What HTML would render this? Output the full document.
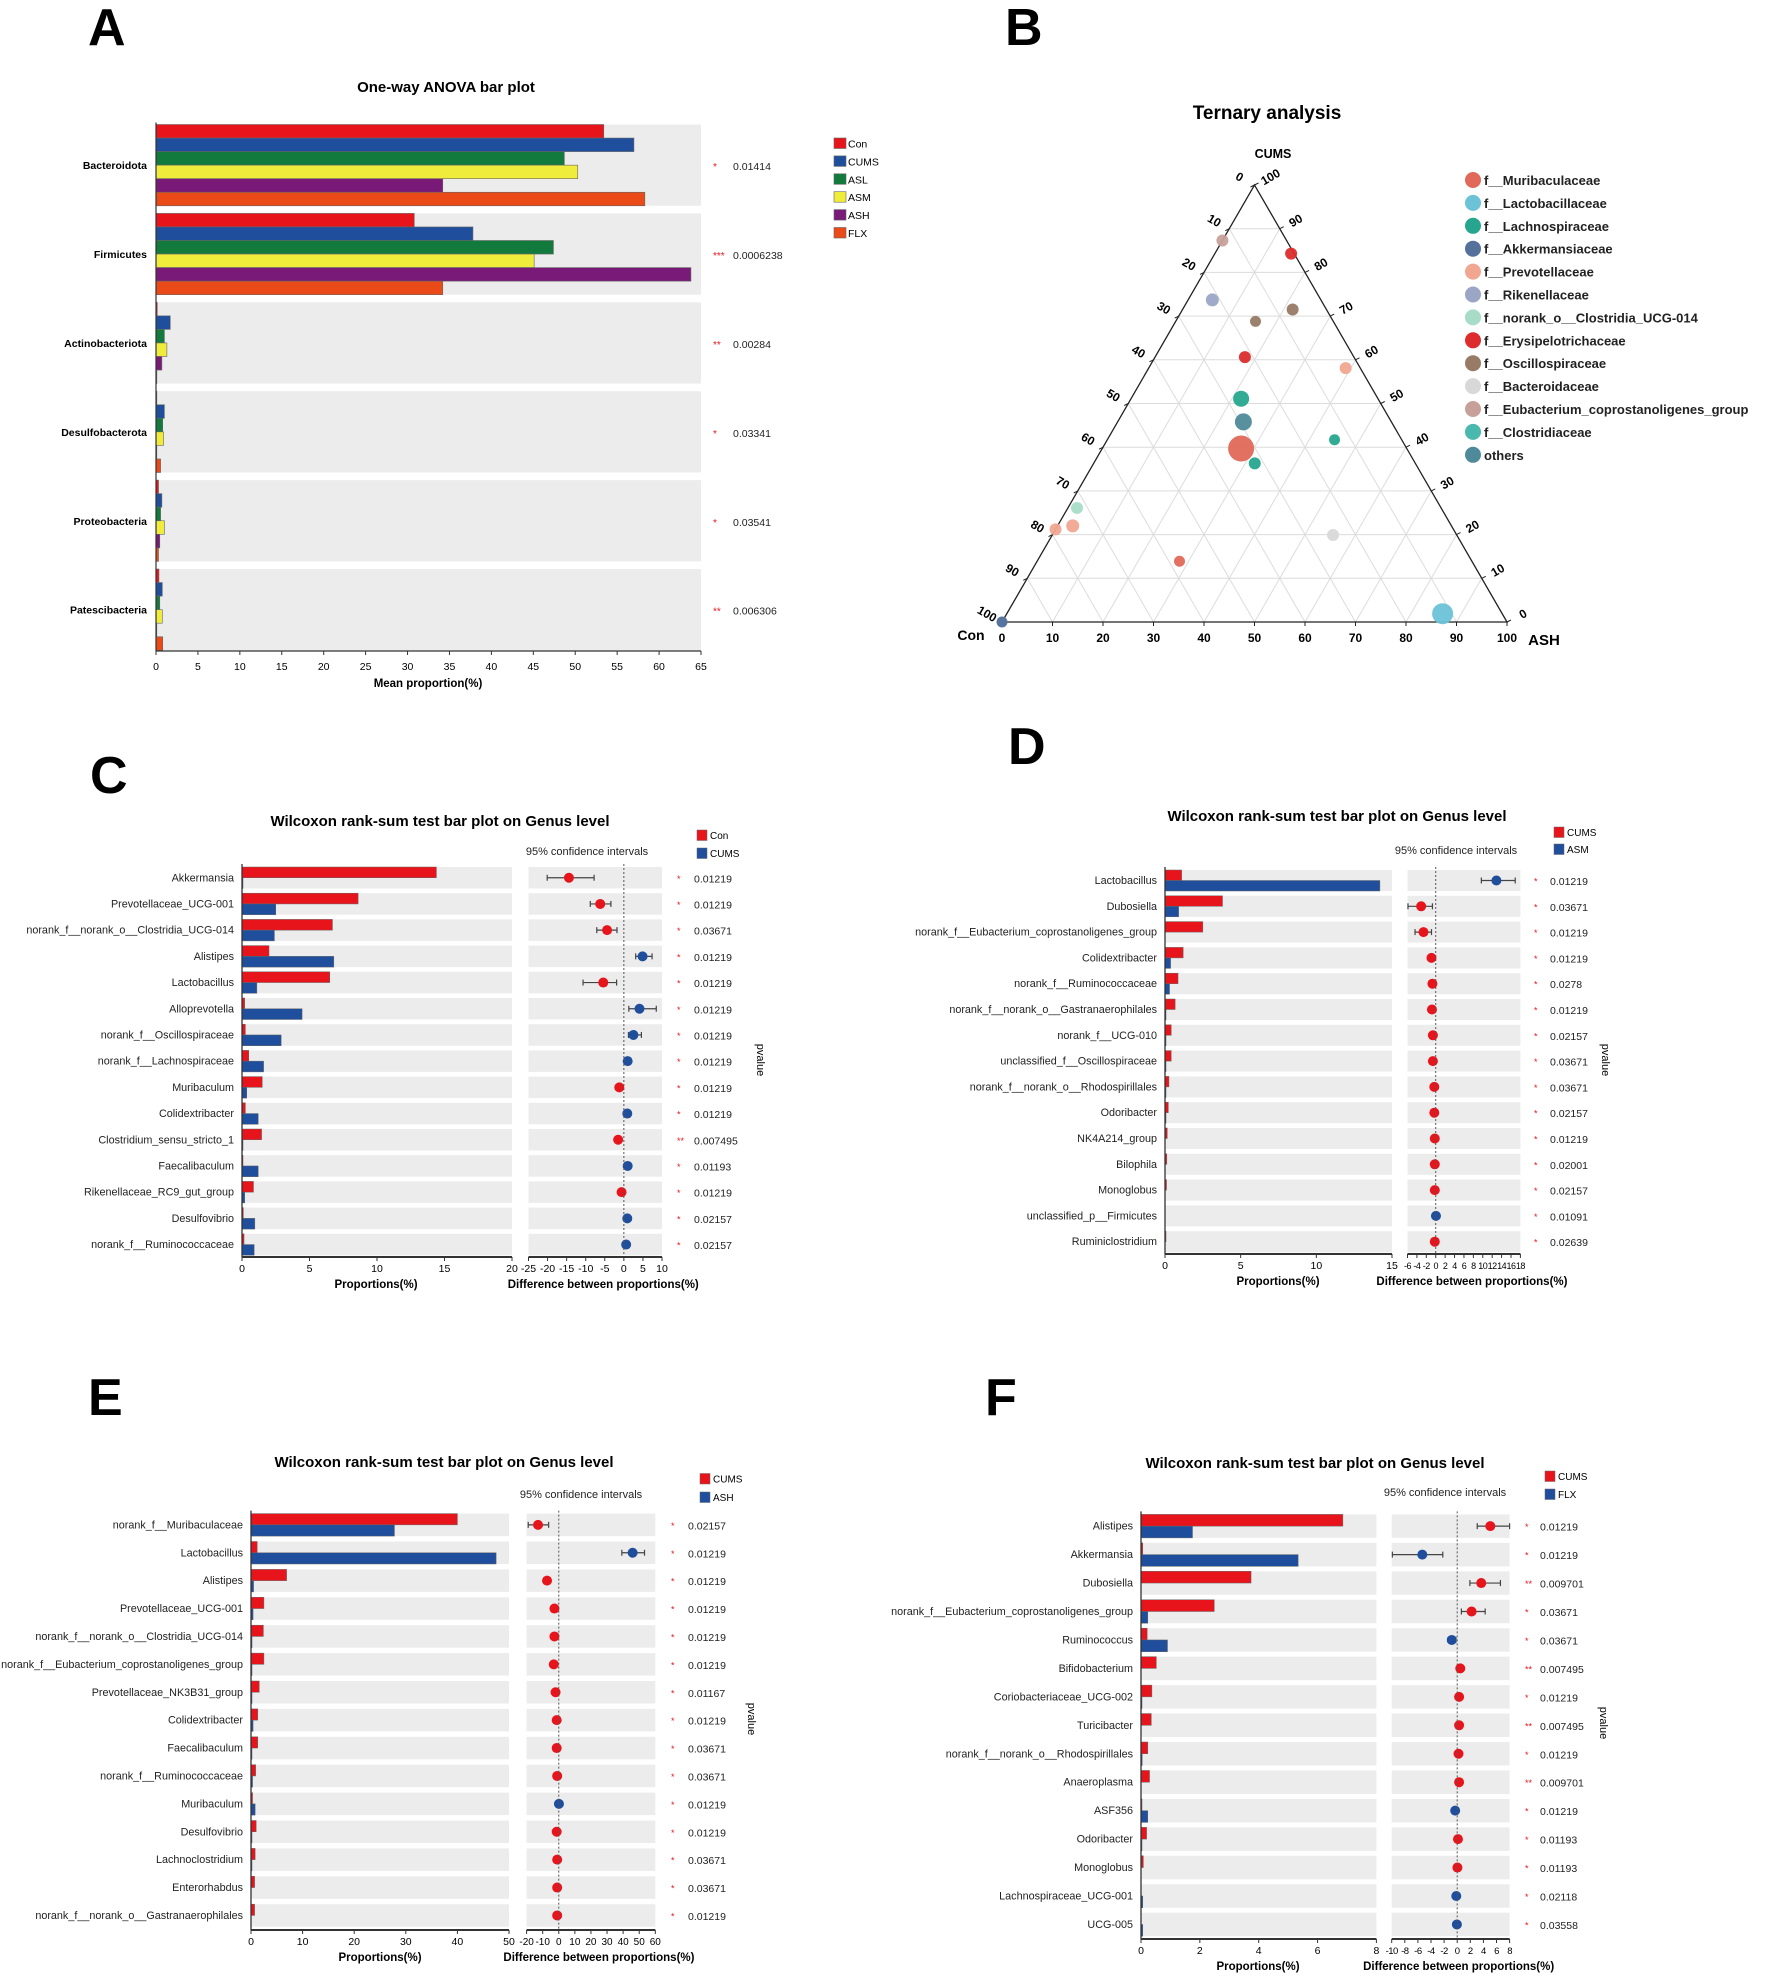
<!DOCTYPE html>
<html><head><meta charset="utf-8"><style>
html,body{margin:0;padding:0;background:#fff;}
svg{display:block;font-family:"Liberation Sans",Arial,sans-serif;}
</style></head><body>
<svg id="fig" width="1772" height="1977" viewBox="0 0 1772 1977" xmlns="http://www.w3.org/2000/svg">
<rect width="1772" height="1977" fill="#fff"/>
<g id="layer"></g>
</svg>
<script>
// ===== Panel A data =====
const aPhyla = ["Bacteroidota","Firmicutes","Actinobacteriota","Desulfobacterota","Proteobacteria","Patescibacteria"];
const aGroups = ["Con","CUMS","ASL","ASM","ASH","FLX"];
const aCon  = [53.4,30.8,0.15,0.1,0.3,0.35];
const aCUMS = [57.0,37.8,1.7,1.0,0.7,0.75];
const aASL  = [48.7,47.4,1.0,0.8,0.55,0.45];
const aASM  = [50.3,45.1,1.3,0.9,1.0,0.75];
const aASH  = [34.2,63.8,0.7,0.05,0.45,0.05];
const aFLX  = [58.3,34.2,0.1,0.55,0.3,0.8];
const aP = ["0.01414","0.0006238","0.00284","0.03341","0.03541","0.006306"];
const aStars = ["*","***","**","*","*","**"];
const aTicks = [0,5,10,15,20,25,30,35,40,45,50,55,60,65];

// ===== Panel B data =====
const bFamilies = ["f__Muribaculaceae","f__Lactobacillaceae","f__Lachnospiraceae","f__Akkermansiaceae","f__Prevotellaceae","f__Rikenellaceae","f__norank_o__Clostridia_UCG-014","f__Erysipelotrichaceae","f__Oscillospiraceae","f__Bacteroidaceae","f__Eubacterium_coprostanoligenes_group","f__Clostridiaceae","others"];
const bFam  = [11,3,10,7,5,8,8,7,4,2,12,0,2,2,6,4,4,9,0,1];
const bCums = [0,0,87.3,84.3,73.7,71.5,68.8,60.6,58.1,51.1,45.8,39.7,41.7,36.3,26.1,22.0,21.2,19.9,13.9,1.9];
const bAsh  = [0,0,0,15.1,4.8,21.8,15.8,17.8,39.0,21.8,24.9,27.5,45.0,31.9,1.8,3.0,0,55.6,28.2,86.3];
const bSize = [5,5.5,6,6,6.5,6,5.5,6,6,8,8.5,13,5.5,6,6,6.5,6,6,5.5,10.5];
const bTicks = [0,10,20,30,40,50,60,70,80,90,100];

// ===== Panel C data =====
const cLabels = ["Akkermansia","Prevotellaceae_UCG-001","norank_f__norank_o__Clostridia_UCG-014","Alistipes","Lactobacillus","Alloprevotella","norank_f__Oscillospiraceae","norank_f__Lachnospiraceae","Muribaculum","Colidextribacter","Clostridium_sensu_stricto_1","Faecalibaculum","Rikenellaceae_RC9_gut_group","Desulfovibrio","norank_f__Ruminococcaceae"];
const cG1 = [14.4,8.6,6.7,2.0,6.5,0.2,0.25,0.5,1.5,0.25,1.45,0.05,0.85,0.1,0.15];
const cG2 = [0.05,2.5,2.4,6.8,1.1,4.45,2.9,1.6,0.35,1.2,0.05,1.2,0.2,0.95,0.9];
const cDiff = [-14.4,-6.2,-4.4,4.9,-5.4,4.1,2.5,1.0,-1.2,0.9,-1.5,1.0,-0.6,0.9,0.6];
const cLo = [-20.1,-8.8,-7.1,3.1,-10.7,1.3,1.2,0.6,-1.2,0.9,-1.5,1.0,-0.6,0.9,0.6];
const cHi = [-7.8,-3.4,-1.8,7.4,-1.9,8.5,4.6,1.4,-1.2,0.9,-1.5,1.0,-0.6,0.9,0.6];
const cP = ["0.01219","0.01219","0.03671","0.01219","0.01219","0.01219","0.01219","0.01219","0.01219","0.01219","0.007495","0.01193","0.01219","0.02157","0.02157"];
const cStars = ["*","*","*","*","*","*","*","*","*","*","**","*","*","*","*"];
const cTicks = [0,5,10,15,20];
const cCiTicks = [-25,-20,-15,-10,-5,0,5,10];

// ===== Panel D data =====
const dLabels = ["Lactobacillus","Dubosiella","norank_f__Eubacterium_coprostanoligenes_group","Colidextribacter","norank_f__Ruminococcaceae","norank_f__norank_o__Gastranaerophilales","norank_f__UCG-010","unclassified_f__Oscillospiraceae","norank_f__norank_o__Rhodospirillales","Odoribacter","NK4A214_group","Bilophila","Monoglobus","unclassified_p__Firmicutes","Ruminiclostridium"];
const dG1 = [1.1,3.8,2.5,1.2,0.86,0.67,0.41,0.41,0.26,0.22,0.15,0.12,0.1,0,0.02];
const dG2 = [14.2,0.9,0,0.37,0.3,0.05,0.05,0.05,0.03,0.03,0,0,0,0,0];
const dDiff = [12.9,-3.1,-2.6,-0.9,-0.7,-0.8,-0.6,-0.6,-0.3,-0.3,-0.2,-0.2,-0.2,0.05,-0.2];
const dLo = [9.7,-5.9,-4.4,-0.9,-0.7,-0.8,-0.6,-0.6,-0.3,-0.3,-0.2,-0.2,-0.2,0.05,-0.2];
const dHi = [16.9,-0.7,-0.9,-0.9,-0.7,-0.8,-0.6,-0.6,-0.3,-0.3,-0.2,-0.2,-0.2,0.05,-0.2];
const dP = ["0.01219","0.03671","0.01219","0.01219","0.0278","0.01219","0.02157","0.03671","0.03671","0.02157","0.01219","0.02001","0.02157","0.01091","0.02639"];
const dStars = ["*","*","*","*","*","*","*","*","*","*","*","*","*","*","*"];
const dTicks = [0,5,10,15];
const dCiTicks = [-6,-4,-2,0,2,4,6,8,10,12,14,16,18];

// ===== Panel E data =====
const eLabels = ["norank_f__Muribaculaceae","Lactobacillus","Alistipes","Prevotellaceae_UCG-001","norank_f__norank_o__Clostridia_UCG-014","norank_f__Eubacterium_coprostanoligenes_group","Prevotellaceae_NK3B31_group","Colidextribacter","Faecalibaculum","norank_f__Ruminococcaceae","Muribaculum","Desulfovibrio","Lachnoclostridium","Enterorhabdus","norank_f__norank_o__Gastranaerophilales"];
const eG1 = [40.0,1.2,6.9,2.5,2.4,2.5,1.6,1.3,1.3,0.9,0.3,1.0,0.8,0.7,0.7];
const eG2 = [27.8,47.5,0.5,0.4,0.2,0.1,0.1,0.4,0.1,0.3,0.8,0.1,0.1,0,0];
const eDiff = [-12.9,45.9,-7.3,-2.7,-2.7,-3.1,-2.0,-1.3,-1.3,-1.0,0.1,-1.3,-1.0,-1.0,-1.0];
const eLo = [-19.0,39.2,-7.3,-2.7,-2.7,-3.1,-2.0,-1.3,-1.3,-1.0,0.1,-1.3,-1.0,-1.0,-1.0];
const eHi = [-6.3,53.3,-7.3,-2.7,-2.7,-3.1,-2.0,-1.3,-1.3,-1.0,0.1,-1.3,-1.0,-1.0,-1.0];
const eP = ["0.02157","0.01219","0.01219","0.01219","0.01219","0.01219","0.01167","0.01219","0.03671","0.03671","0.01219","0.01219","0.03671","0.03671","0.01219"];
const eStars = ["*","*","*","*","*","*","*","*","*","*","*","*","*","*","*"];
const eTicks = [0,10,20,30,40,50];
const eCiTicks = [-20,-10,0,10,20,30,40,50,60];

// ===== Panel F data =====
const fLabels = ["Alistipes","Akkermansia","Dubosiella","norank_f__Eubacterium_coprostanoligenes_group","Ruminococcus","Bifidobacterium","Coriobacteriaceae_UCG-002","Turicibacter","norank_f__norank_o__Rhodospirillales","Anaeroplasma","ASF356","Odoribacter","Monoglobus","Lachnospiraceae_UCG-001","UCG-005"];
const fG1 = [6.86,0.06,3.74,2.49,0.21,0.52,0.37,0.35,0.23,0.29,0.01,0.19,0.08,0,0];
const fG2 = [1.75,5.34,0,0.23,0.9,0,0.02,0,0.04,0,0.23,0.02,0,0.06,0.06];
const fDiff = [5.05,-5.33,3.67,2.2,-0.83,0.47,0.29,0.29,0.2,0.29,-0.31,0.12,0.03,-0.14,-0.05];
const fLo = [3.06,-9.9,1.94,0.64,-1.4,0.47,0.29,0.29,0.2,0.29,-0.31,0.12,0.03,-0.14,-0.05];
const fHi = [8.0,-2.2,6.6,4.27,-0.2,0.47,0.29,0.29,0.2,0.29,-0.31,0.12,0.03,-0.14,-0.05];
const fP = ["0.01219","0.01219","0.009701","0.03671","0.03671","0.007495","0.01219","0.007495","0.01219","0.009701","0.01219","0.01193","0.01193","0.02118","0.03558"];
const fStars = ["*","*","**","*","*","**","*","**","*","**","*","*","*","*","*"];
const fTicks = [0,2,4,6,8];
const fCiTicks = [-10,-8,-6,-4,-2,0,2,4,6,8];

const NS = "http://www.w3.org/2000/svg";
const layer = document.getElementById("layer");
function el(tag, attrs, parent, txt) {
  const e = document.createElementNS(NS, tag);
  for (const k in attrs) e.setAttribute(k, attrs[k]);
  if (txt !== undefined) e.textContent = txt;
  (parent || layer).appendChild(e);
  return e;
}
const RED = "#e8141c", BLUE = "#1f4e9c";

// Panel letters
[["A",88,45],["B",1005,45],["C",90,793],["D",1008,764],["E",88,1415],["F",985,1415]].forEach(p => {
  const t = el("text", {x:p[1], y:p[2], "font-size":52, "font-weight":"bold", fill:"#000"}, layer, p[0]);
  
  
});

// ===== Panel A =====
(function(){
  const g = el("g", {});
  
  
  const x0 = 156, x1 = 701, xmax = 65, top = 124.5, pitch = 88.9, bh = 13.55, axisY = 651;
  const xs = v => x0 + v / xmax * (x1 - x0);
  const series = [aCon,aCUMS,aASL,aASM,aASH,aFLX];
  const cols = [RED,BLUE,"#127a3c","#f0ec3c","#7a1a78","#ea4a18"];
  const t = el("text", {x:446, y:92, "text-anchor":"middle", "font-size":15, "font-weight":"bold"}, g, "One-way ANOVA bar plot");
  
  
  aPhyla.forEach((ph, i) => {
    const gy = top + i * pitch;
    const bg = el("rect", {x:x0, y:gy, width:x1 - x0, height:bh * 6, fill:"#ececec"}, g);
    
    
    series.forEach((s, k) => {
      const r = el("rect", {x:x0, y:gy + k * bh, width:Math.max(0.8, xs(s[i]) - x0), height:bh, fill:cols[k], stroke:"#666", "stroke-width":0.6}, g);
      
      
    });
    const lab = el("text", {x:147, y:gy + bh * 3 + 4, "text-anchor":"end", "font-size":10.5, "font-weight":"bold"}, g, ph);
    
    
    const st = el("text", {x:713, y:gy + bh * 3 + 5, "font-size":10, fill:RED}, g, aStars[i]);
    
    
    const pv = el("text", {x:733, y:gy + bh * 3 + 5, "font-size":10.5, fill:"#222"}, g, aP[i]);
    
    
  });
  const ax = el("line", {x1:x0, y1:top - 2, x2:x0, y2:axisY, stroke:"#333", "stroke-width":1.2}, g);
  
  
  const bx = el("line", {x1:x0, y1:axisY, x2:x1, y2:axisY, stroke:"#333", "stroke-width":1.2}, g);
  
  
  aTicks.forEach(v => {
    el("line", {x1:xs(v), y1:axisY, x2:xs(v), y2:axisY + 4, stroke:"#333"}, g);
    const tl = el("text", {x:xs(v), y:670, "text-anchor":"middle", "font-size":10.5}, g, v);
    
    
  });
  const xt = el("text", {x:428, y:687, "text-anchor":"middle", "font-size":11.5, "font-weight":"bold"}, g, "Mean proportion(%)");
  
  
  aGroups.forEach((n, k) => {
    const lg = el("g", {}, g);
    
    
    el("rect", {x:834, y:138 + k * 17.9, width:12, height:10.5, fill:cols[k], stroke:"#666", "stroke-width":0.6}, lg);
    el("text", {x:848, y:147.5 + k * 17.9, "font-size":10.5}, lg, n);
  });
})();

// ===== Panel B =====
(function(){
  const g = el("g", {});
  
  
  const BL = [1002, 622], BR = [1507, 622], AP = [1254.5, 185];
  const pos = (con, cums, ash) => [con * BL[0] + cums * AP[0] + ash * BR[0], con * BL[1] + cums * AP[1] + ash * BR[1]];
  const t = el("text", {x:1267, y:119, "text-anchor":"middle", "font-size":19, "font-weight":"bold"}, g, "Ternary analysis");
  
  
  for (let k = 1; k < 10; k++) {
    const f = k / 10;
    let a = pos(1 - f, f, 0), b = pos(0, f, 1 - f);
    el("line", {x1:a[0], y1:a[1], x2:b[0], y2:b[1], stroke:"#dcdcdc", "stroke-width":1}, g);
    a = pos(1 - f, 0, f); b = pos(0, 1 - f, f);
    el("line", {x1:a[0], y1:a[1], x2:b[0], y2:b[1], stroke:"#dcdcdc", "stroke-width":1}, g);
    a = pos(f, 0, 1 - f); b = pos(f, 1 - f, 0);
    el("line", {x1:a[0], y1:a[1], x2:b[0], y2:b[1], stroke:"#dcdcdc", "stroke-width":1}, g);
  }
  const tri = el("polygon", {points:`${BL} ${AP} ${BR}`, fill:"none", stroke:"#222", "stroke-width":1.3}, g);
  
  
  bTicks.forEach(v => {
    const f = v / 100;
    let p = pos(1 - f, 0, f);
    el("line", {x1:p[0], y1:p[1], x2:p[0], y2:p[1] + 4, stroke:"#222"}, g);
    let tl = el("text", {x:p[0], y:p[1] + 20, "text-anchor":"middle", "font-size":12, "font-weight":"bold"}, g, v);
    
    
    p = pos(f, 1 - f, 0);
    el("line", {x1:p[0], y1:p[1], x2:p[0] - 4, y2:p[1] + 2, stroke:"#222"}, g);
    tl = el("text", {x:p[0] - 15, y:p[1] - 4, "text-anchor":"middle", "font-size":12, "font-weight":"bold", transform:`rotate(30 ${p[0] - 15} ${p[1] - 8})`}, g, v);
    
    
    p = pos(0, f, 1 - f);
    el("line", {x1:p[0], y1:p[1], x2:p[0] + 4, y2:p[1] - 2, stroke:"#222"}, g);
    tl = el("text", {x:p[0] + 16, y:p[1] - 4, "text-anchor":"middle", "font-size":12, "font-weight":"bold", transform:`rotate(-30 ${p[0] + 16} ${p[1] - 8})`}, g, v);
    
    
  });
  [["CUMS",1273,158,12.5,"cums-vertex-label"],["Con",971,640,14,"con-vertex-label"],["ASH",1544,645,15,"ash-vertex-label"]].forEach(a => {
    const tl = el("text", {x:a[1], y:a[2], "text-anchor":"middle", "font-size":a[3], "font-weight":"bold"}, g, a[0]);
    
    
  });
  const cols = ["#e0695a","#6cc3d8","#26a68e","#56709c","#f0a690","#9ba6c6","#a6dcc8","#dc2c2c","#977b66","#d8d8d8","#c8a09a","#4ab8ac","#4f8a9a"];
  bCums.forEach((c, i) => {
    const cums = c / 100, ash = bAsh[i] / 100;
    const p = pos(1 - cums - ash, cums, ash);
    const d = el("circle", {cx:p[0], cy:p[1], r:bSize[i], fill:cols[bFam[i]], opacity:0.95}, g);
    
    
  });
  bFamilies.forEach((n, k) => {
    const lg = el("g", {}, g);
    
    
    el("circle", {cx:1473, cy:180 + k * 22.9, r:8, fill:cols[k]}, lg);
    el("text", {x:1484, y:185 + k * 22.9, "font-size":13, "font-weight":"bold", fill:"#222"}, lg, n);
  });
})();

// ===== Wilcoxon panels =====
function wilcox(cfg, labels, g1, g2, diff, lo, hi, pv, stars, ticks, ciTicks) {
  const g = el("g", {});
  
  
  const xs = v => cfg.x0 + v / cfg.max * (cfg.x1 - cfg.x0);
  const cs = v => cfg.c0 + (v - cfg.cmin) / (cfg.cmax - cfg.cmin) * (cfg.c1 - cfg.c0);
  const t = el("text", {x:cfg.titleX, y:cfg.titleY + 5, "text-anchor":"middle", "font-size":15, "font-weight":"bold"}, g, "Wilcoxon rank-sum test bar plot on Genus level");
  
  
  const ci = el("text", {x:cfg.ciTX, y:cfg.ciTY + 4, "text-anchor":"middle", "font-size":11, fill:"#222"}, g, "95% confidence intervals");
  
  
  [[RED, cfg.g1name, cfg.lgY1],[BLUE, cfg.g2name, cfg.lgY2]].forEach(L => {
    const lg = el("g", {}, g);
    
    
    el("rect", {x:cfg.lgX, y:L[2], width:10, height:10.5, fill:L[0], stroke:"#666", "stroke-width":0.5}, lg);
    el("text", {x:cfg.lgX + 13, y:L[2] + 9, "font-size":10}, lg, L[1]);
  });
  const rh = cfg.rowH;
  labels.forEach((lab, i) => {
    const y = cfg.rowTop + i * cfg.pitch;
    const cy = y + rh / 2;
    const bg1 = el("rect", {x:cfg.x0, y:y, width:cfg.x1 - cfg.x0, height:rh, fill:"#ececec"}, g);
    
    
    const bg2 = el("rect", {x:cfg.c0, y:y, width:cfg.c1 - cfg.c0, height:rh, fill:"#ececec"}, g);
    
    
    if (g1[i] > 0) {
      const b = el("rect", {x:cfg.x0, y:y, width:Math.max(1, xs(g1[i]) - cfg.x0), height:rh / 2, fill:RED, stroke:"#666", "stroke-width":0.5}, g);
      
      
    }
    if (g2[i] > 0) {
      const b = el("rect", {x:cfg.x0, y:cy, width:Math.max(1, xs(g2[i]) - cfg.x0), height:rh / 2, fill:BLUE, stroke:"#666", "stroke-width":0.5}, g);
      
      
    }
    const tl = el("text", {x:cfg.labelX, y:cy + 3.5, "text-anchor":"end", "font-size":10.8, fill:"#222"}, g, lab);
    
    
    const col = (diff[i] > 0) === cfg.posRed ? RED : BLUE;
    if (hi[i] - lo[i] > 0.01) {
      el("line", {x1:cs(lo[i]), y1:cy, x2:cs(hi[i]), y2:cy, stroke:"#444", "stroke-width":1.2}, g);
      el("line", {x1:cs(lo[i]), y1:cy - 3, x2:cs(lo[i]), y2:cy + 3, stroke:"#444", "stroke-width":1.2}, g);
      el("line", {x1:cs(hi[i]), y1:cy - 3, x2:cs(hi[i]), y2:cy + 3, stroke:"#444", "stroke-width":1.2}, g);
    }
    const d = el("circle", {cx:cs(diff[i]), cy:cy, r:5, fill:col}, g);
    
    
    const st = el("text", {x:cfg.starX, y:cy + 4, "font-size":9, fill:RED}, g, stars[i]);
    
    
    const p = el("text", {x:cfg.pX, y:cy + 4.5, "font-size":10.5, fill:"#222"}, g, pv[i]);
    
    
  });
  const top = cfg.rowTop - 3, bot = cfg.axisY;
  const zero = el("line", {x1:cs(0), y1:top, x2:cs(0), y2:bot, stroke:"#555", "stroke-width":1, "stroke-dasharray":"2,2"}, g);
  
  
  el("line", {x1:cfg.x0, y1:top, x2:cfg.x0, y2:bot, stroke:"#333", "stroke-width":1.3}, g);
  const xa = el("line", {x1:cfg.x0, y1:bot, x2:cfg.x1, y2:bot, stroke:"#333", "stroke-width":2}, g);
  
  
  const ca = el("line", {x1:cfg.c0, y1:bot, x2:cfg.c1, y2:bot, stroke:"#333", "stroke-width":2}, g);
  
  
  ticks.forEach(v => {
    el("line", {x1:xs(v), y1:bot, x2:xs(v), y2:bot + 4, stroke:"#333"}, g);
    el("text", {x:xs(v), y:bot + 15, "text-anchor":"middle", "font-size":10.5}, g, v);
  });
  ciTicks.forEach(v => {
    el("line", {x1:cs(v), y1:bot, x2:cs(v), y2:bot + 4, stroke:"#333"}, g);
    el("text", {x:cs(v), y:bot + 15, "text-anchor":"middle", "font-size":cfg.ciFs, "letter-spacing":cfg.ciFs < 10 ? -0.5 : 0}, g, v);
  });
  const x1t = el("text", {x:cfg.xTX, y:bot + 31, "text-anchor":"middle", "font-size":11.5, "font-weight":"bold"}, g, "Proportions(%)");
  
  
  const x2t = el("text", {x:(cfg.c0 + cfg.c1) / 2 + 8, y:bot + 31, "text-anchor":"middle", "font-size":11.5, "font-weight":"bold"}, g, "Difference between proportions(%)");
  
  
  const pl = el("text", {x:cfg.pvX, y:cfg.pvY, "text-anchor":"middle", "font-size":11, transform:`rotate(90 ${cfg.pvX} ${cfg.pvY})`}, g, "pvalue");
  
  
}

wilcox({name:"panel-c-con-vs-cums", x0:242, x1:512, max:20, c0:528.5, c1:662, cmin:-25, cmax:10,
  rowTop:867, pitch:26.2, rowH:21.5, axisY:1257, labelX:234, starX:677, pX:694,
  titleX:440, titleY:821, ciTX:587, ciTY:851, lgX:697, lgY1:830, lgY2:848, g1name:"Con", g2name:"CUMS",
  xTX:376, pvX:757, pvY:1060, posRed:false, ciFs:10.5},
  cLabels, cG1, cG2, cDiff, cLo, cHi, cP, cStars, cTicks, cCiTicks);

wilcox({name:"panel-d-cums-vs-asm", x0:1165, x1:1392, max:15, c0:1407.5, c1:1520.4, cmin:-6, cmax:18,
  rowTop:870, pitch:25.8, rowH:21, axisY:1254, labelX:1157, starX:1534, pX:1550,
  titleX:1337, titleY:816, ciTX:1456, ciTY:850, lgX:1554, lgY1:827, lgY2:844, g1name:"CUMS", g2name:"ASM",
  xTX:1278, pvX:1602, pvY:1060, posRed:false, ciFs:9},
  dLabels, dG1, dG2, dDiff, dLo, dHi, dP, dStars, dTicks, dCiTicks);

wilcox({name:"panel-e-cums-vs-ash", x0:251, x1:509, max:50, c0:526.6, c1:655.3, cmin:-20, cmax:60,
  rowTop:1513.6, pitch:27.9, rowH:22.5, axisY:1930, labelX:243, starX:671, pX:688,
  titleX:444, titleY:1462, ciTX:581, ciTY:1494, lgX:700, lgY1:1473.5, lgY2:1492, g1name:"CUMS", g2name:"ASH",
  xTX:380, pvX:748, pvY:1719, posRed:false, ciFs:10},
  eLabels, eG1, eG2, eDiff, eLo, eHi, eP, eStars, eTicks, eCiTicks);

wilcox({name:"panel-f-cums-vs-flx", x0:1141, x1:1376.4, max:8, c0:1391.7, c1:1509.6, cmin:-10, cmax:8,
  rowTop:1514.4, pitch:28.45, rowH:23.5, axisY:1939, labelX:1133, starX:1525, pX:1540,
  titleX:1315, titleY:1463, ciTX:1445, ciTY:1492, lgX:1545, lgY1:1471, lgY2:1489, g1name:"CUMS", g2name:"FLX",
  xTX:1258, pvX:1600, pvY:1723, posRed:true, ciFs:9.5},
  fLabels, fG1, fG2, fDiff, fLo, fHi, fP, fStars, fTicks, fCiTicks);
</script>
</body></html>
